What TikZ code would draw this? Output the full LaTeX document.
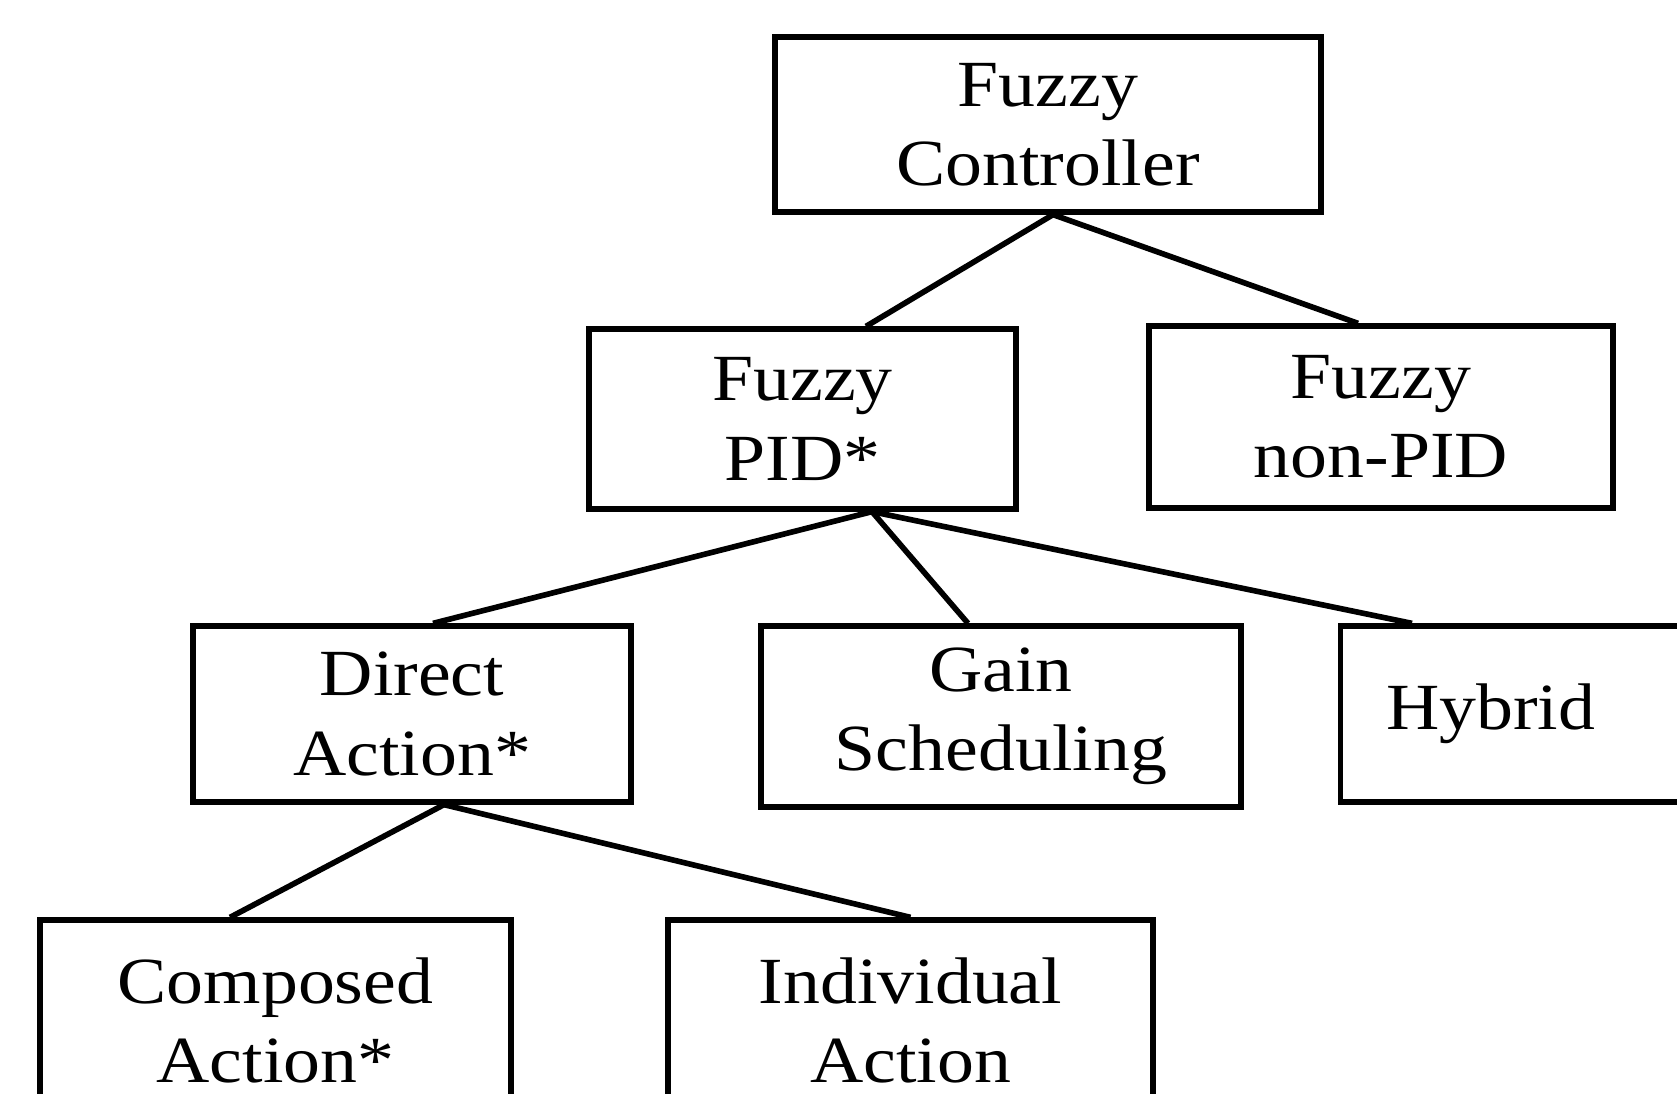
\documentclass[tikz,border=0pt]{standalone}
\usepackage{fontspec}
\setmainfont{Liberation Serif}[FakeStretch=1.12]
\usepackage{tikz}
\usetikzlibrary{positioning}

\begin{document}
\begin{tikzpicture}[
    font=\fontsize{37.5pt}{45pt}\selectfont,
    box/.style={draw, line width=3pt, align=center, inner sep=0pt},
    link/.style={line width=3.2pt},
  ]
    \useasboundingbox (0,0) rectangle (33.54,-21.88);

    \node[box, minimum width=10.92cm, minimum height=3.50cm] (ctrl)  at (20.96,-2.49)  {Fuzzy\\Controller};
    \node[box, minimum width=8.54cm,  minimum height=3.60cm] (pid)   at (16.05,-8.38)  {Fuzzy\\PID*};
    \node[box, minimum width=9.28cm,  minimum height=3.64cm] (npid)  at (27.62,-8.34)  {Fuzzy\\non-PID};
    \node[box, minimum width=8.76cm,  minimum height=3.52cm] (dir)   at (8.24,-14.28)  {Direct\\Action*};
    \node[box, minimum width=9.60cm,  minimum height=3.62cm] (gain)  at (20.02,-14.33) {Gain\\Scheduling};
    \node[box, minimum width=7.30cm,  minimum height=3.52cm, anchor=west] (hyb) at (26.76,-14.28) {Hybrid\hspace*{1.3cm}};
    \node[box, minimum width=9.42cm,  minimum height=4.00cm] (comp)  at (5.51,-20.40)  {Composed\\Action*};
    \node[box, minimum width=9.70cm,  minimum height=4.00cm] (indiv) at (18.21,-20.40) {Individual\\Action};

    \draw[link] ([xshift=0.1cm]ctrl.south) -- ([xshift=1.27cm]pid.north);
    \draw[link] ([xshift=0.1cm]ctrl.south) -- ([xshift=-0.46cm]npid.north);
    \draw[link] ([xshift=1.39cm]pid.south) -- ([xshift=0.42cm]dir.north);
    \draw[link] ([xshift=1.39cm]pid.south) -- ([xshift=-0.66cm]gain.north);
    \draw[link] ([xshift=1.39cm]pid.south) -- ([xshift=1.48cm]hyb.north west);
    \draw[link] ([xshift=0.64cm]dir.south) -- ([xshift=-0.91cm]comp.north);
    \draw[link] ([xshift=0.64cm]dir.south) -- (indiv.north);
  \end{tikzpicture}
\end{document}
